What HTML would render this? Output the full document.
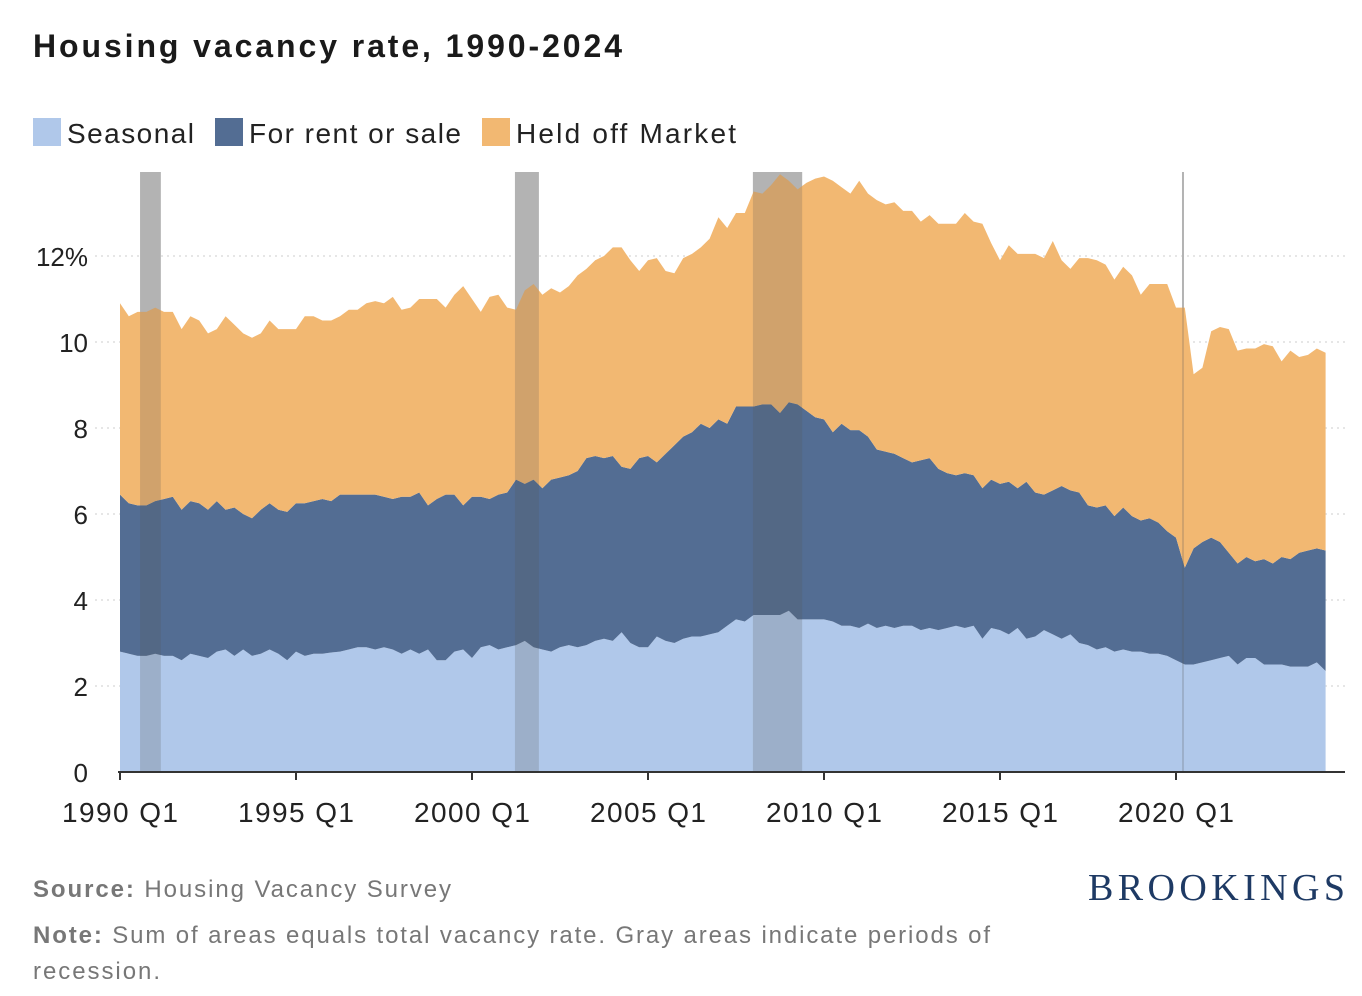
<!DOCTYPE html>
<html><head><meta charset="utf-8"><style>
body{margin:0;background:#fff;width:1362px;height:996px;overflow:hidden;font-family:"Liberation Sans",sans-serif;}
svg{position:absolute;left:0;top:0}
</style></head><body>
<svg width="1362" height="996">
<text x="33" y="57" font-size="32" font-weight="bold" fill="#1a1a1a" textLength="589" lengthAdjust="spacing">Housing vacancy rate, 1990-2024</text>
<g>
<rect x="33" y="118" width="28" height="28" fill="#b0c8ea"/>
<text x="67" y="143" font-size="28" fill="#222" textLength="127" lengthAdjust="spacing">Seasonal</text>
<rect x="215" y="118" width="28" height="28" fill="#536d93"/>
<text x="249" y="143" font-size="28" fill="#222" textLength="212" lengthAdjust="spacing">For rent or sale</text>
<rect x="482" y="118" width="28" height="28" fill="#f2b872"/>
<text x="516" y="143" font-size="28" fill="#222" textLength="220" lengthAdjust="spacing">Held off Market</text>
</g>
<g id="plot"></g>
<text x="33" y="897" font-size="24" fill="#777" textLength="418" lengthAdjust="spacing"><tspan font-weight="bold">Source:</tspan> Housing Vacancy Survey</text>
<text x="33" y="943" font-size="24" fill="#777" textLength="957" lengthAdjust="spacing"><tspan font-weight="bold">Note:</tspan> Sum of areas equals total vacancy rate. Gray areas indicate periods of</text>
<text x="33" y="979" font-size="24" fill="#777" textLength="127" lengthAdjust="spacing">recession.</text>
<text x="1088" y="900" font-size="38" font-family="Liberation Serif,serif" fill="#1e3a64" textLength="257" lengthAdjust="spacing">BROOKINGS</text>
</svg>
<script>
const seasonal=[2.8,2.75,2.7,2.7,2.75,2.7,2.7,2.6,2.75,2.7,2.65,2.8,2.85,2.7,2.85,2.7,2.75,2.85,2.75,2.6,2.8,2.7,2.75,2.75,2.78,2.8,2.85,2.9,2.9,2.85,2.9,2.85,2.75,2.85,2.75,2.85,2.6,2.6,2.8,2.85,2.65,2.9,2.95,2.85,2.9,2.95,3.05,2.9,2.85,2.8,2.9,2.95,2.9,2.95,3.05,3.1,3.05,3.25,3.0,2.9,2.9,3.15,3.05,3.0,3.1,3.15,3.15,3.2,3.25,3.4,3.55,3.5,3.65,3.65,3.65,3.65,3.75,3.55,3.55,3.55,3.55,3.5,3.4,3.4,3.35,3.45,3.35,3.4,3.35,3.4,3.4,3.3,3.35,3.3,3.35,3.4,3.35,3.4,3.1,3.35,3.3,3.2,3.35,3.1,3.15,3.3,3.2,3.1,3.2,3.0,2.95,2.85,2.9,2.8,2.85,2.8,2.8,2.75,2.75,2.7,2.6,2.5,2.5,2.55,2.6,2.65,2.7,2.5,2.65,2.65,2.5,2.5,2.5,2.45,2.45,2.45,2.55,2.35];
const rentSaleTop=[6.45,6.25,6.2,6.2,6.3,6.35,6.4,6.1,6.3,6.25,6.1,6.3,6.1,6.15,6.0,5.9,6.1,6.25,6.1,6.05,6.25,6.25,6.3,6.35,6.3,6.45,6.45,6.45,6.45,6.45,6.4,6.35,6.4,6.4,6.5,6.2,6.35,6.45,6.45,6.2,6.4,6.4,6.35,6.45,6.5,6.8,6.7,6.8,6.6,6.8,6.85,6.9,7.0,7.3,7.35,7.3,7.35,7.1,7.05,7.3,7.35,7.2,7.4,7.6,7.8,7.9,8.1,8.0,8.2,8.1,8.5,8.5,8.5,8.55,8.55,8.35,8.6,8.55,8.4,8.25,8.2,7.9,8.1,7.95,7.95,7.8,7.5,7.45,7.4,7.3,7.2,7.25,7.3,7.05,6.95,6.9,6.95,6.9,6.6,6.8,6.7,6.75,6.6,6.75,6.5,6.45,6.55,6.65,6.55,6.5,6.2,6.15,6.2,5.95,6.15,5.95,5.85,5.9,5.8,5.6,5.45,4.75,5.2,5.35,5.45,5.35,5.1,4.85,5.0,4.9,4.95,4.85,5.0,4.95,5.1,5.15,5.2,5.15];
const totalRate=[10.9,10.6,10.7,10.7,10.8,10.7,10.7,10.3,10.6,10.5,10.2,10.3,10.6,10.4,10.2,10.1,10.2,10.5,10.3,10.3,10.3,10.6,10.6,10.5,10.5,10.6,10.75,10.75,10.9,10.95,10.9,11.05,10.75,10.8,11.0,11.0,11.0,10.8,11.1,11.3,11.0,10.7,11.05,11.1,10.8,10.75,11.2,11.35,11.1,11.25,11.15,11.3,11.55,11.7,11.9,12.0,12.2,12.2,11.9,11.65,11.9,11.95,11.65,11.6,11.95,12.05,12.2,12.4,12.9,12.65,13.0,13.0,13.5,13.45,13.65,13.9,13.75,13.55,13.7,13.8,13.85,13.75,13.6,13.45,13.75,13.45,13.3,13.2,13.25,13.05,13.05,12.8,12.95,12.75,12.75,12.75,13.0,12.8,12.75,12.3,11.9,12.25,12.05,12.05,12.05,11.95,12.35,11.9,11.7,11.95,11.95,11.9,11.8,11.45,11.75,11.55,11.1,11.35,11.35,11.35,10.8,10.8,9.25,9.4,10.25,10.35,10.3,9.8,9.85,9.85,9.95,9.9,9.55,9.8,9.65,9.7,9.85,9.75];
const yTicks=[0,2,4,6,8,10,12];
const yTickLabels=["0","2","4","6","8","10","12%"];
const xTickYears=[1990,1995,2000,2005,2010,2015,2020];
const recessions=[[1990.57,1991.16],[2001.22,2001.9],[2007.98,2009.38],[2020.17,2020.2]];
const X0=120,PXQ=8.8,Y0=772,PXU=43;
const xq=i=>X0+i*PXQ;
const xy=yr=>X0+(yr-1990)*4*PXQ;
const yv=v=>Y0-v*PXU;
const NS="http://www.w3.org/2000/svg";
const plot=document.getElementById('plot');
function mk(tag,attrs){const e=document.createElementNS(NS,tag);for(const k in attrs)e.setAttribute(k,attrs[k]);plot.appendChild(e);return e;}
yTicks.forEach((t,i)=>{
 if(t>0){const g=mk('line',{x1:95,x2:1345,y1:yv(t),y2:yv(t),stroke:'#ccc','stroke-dasharray':'2,4'});
 
 }
 const l=mk('text',{x:88,y:yv(t)+10,'text-anchor':'end','font-size':26,fill:'#222'});l.textContent=yTickLabels[i];
 
 
});
recessions.forEach(r=>{
 const w=Math.max(2,xy(r[1])-xy(r[0]));
 const b=mk('rect',{x:xy(r[0]),y:172,width:w,height:Y0-172,fill:'#cdcdcd'});
 
 
});
function area(lo,hi,fill,name){
 let d='M'+xq(0)+','+yv(hi[0]);
 for(let i=1;i<hi.length;i++)d+='L'+xq(i)+','+yv(hi[i]);
 for(let i=lo.length-1;i>=0;i--)d+='L'+xq(i)+','+yv(lo[i]);
 const p=mk('path',{d:d+'Z',fill:fill});
 
 
}
area(seasonal.map(()=>0),seasonal,'#b0c8ea','area-seasonal');
area(seasonal,rentSaleTop,'#536d93','area-rent-sale');
area(rentSaleTop,totalRate,'#f2b872','area-held-off');
recessions.forEach(r=>{
 const w=Math.max(2,xy(r[1])-xy(r[0]));
 const b=mk('rect',{x:xy(r[0]),y:172,width:w,height:Y0-172,fill:'#555','fill-opacity':0.22});
 
 
});
const ax=mk('line',{x1:118,x2:1345,y1:Y0,y2:Y0,stroke:'#333','stroke-width':2});


xTickYears.forEach(yr=>{
 const tk=mk('line',{x1:xy(yr),x2:xy(yr),y1:Y0,y2:Y0+8,stroke:'#333','stroke-width':2});
 
 
 const l=mk('text',{x:xy(yr)-58,y:Y0+50,'font-size':28,fill:'#222',textLength:116,lengthAdjust:'spacing'});l.textContent=yr+' Q1';
 
 
});
</script>
</body></html>
